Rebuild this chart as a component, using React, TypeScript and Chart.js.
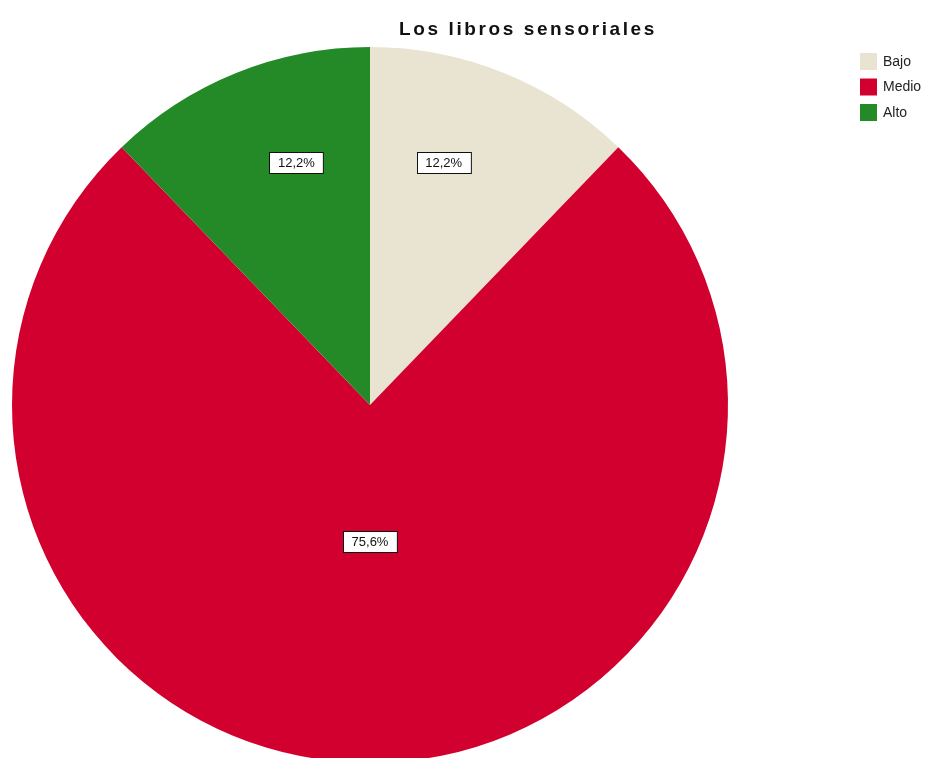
import React, { useEffect, useRef } from "react";
import { Chart, registerables } from "chart.js";

Chart.register(...registerables);

const chartTitle = "Los libros sensoriales";
const categories = ["Bajo", "Medio", "Alto"];
const percentages = [12.2, 75.6, 12.2];
const percentLabels = ["12,2%", "75,6%", "12,2%"];
const sliceColors = ["#E9E4D1", "#D2002F", "#248A27"];

const overlayPlugin = {
  id: "spssOverlay",
  afterDraw(chart: any) {
    const ctx = chart.ctx;
    const meta = chart.getDatasetMeta(0);
    ctx.save();
    // slice labels
    ctx.font = '13px "Liberation Sans", Arial, sans-serif';
    ctx.textAlign = "center";
    ctx.textBaseline = "middle";
    meta.data.forEach((arc: any, i: number) => {
      const p = arc.getProps(["x", "y", "startAngle", "endAngle", "outerRadius"], true);
      const top = -Math.PI / 2;
      let mid = (p.startAngle + p.endAngle) / 2;
      let off = mid - top;
      while (off > Math.PI) off -= 2 * Math.PI;
      while (off <= -Math.PI) off += 2 * Math.PI;
      const small = percentages[i] < 25;
      const ang = top + off * (small ? 0.77 : 1);
      const rf = small ? 0.707 : 0.38;
      const cx = p.x + Math.cos(ang) * p.outerRadius * rf;
      const cy = p.y + Math.sin(ang) * p.outerRadius * rf;
      const txt = percentLabels[i];
      const w = ctx.measureText(txt).width + 17;
      const h = 21;
      const bx = Math.round(cx - w / 2) + 0.5;
      const by = Math.round(cy - h / 2) + 0.5;
      ctx.fillStyle = "#ffffff";
      ctx.fillRect(bx, by, w, h);
      ctx.strokeStyle = "#111111";
      ctx.lineWidth = 1;
      ctx.strokeRect(bx, by, w, h);
      ctx.fillStyle = "#111111";
      ctx.fillText(txt, cx, cy + 1);
    });
    // title
    ctx.font = 'bold 19px "Liberation Sans", Arial, sans-serif';
    try { (ctx as any).letterSpacing = "2.6px"; } catch (e) {}
    ctx.fillStyle = "#111111";
    ctx.textAlign = "center";
    ctx.textBaseline = "alphabetic";
    ctx.fillText(chartTitle, 528, 35);
    try { (ctx as any).letterSpacing = "0px"; } catch (e) {}
    // legend
    ctx.font = '14px "Liberation Sans", Arial, sans-serif';
    ctx.textAlign = "left";
    ctx.textBaseline = "middle";
    categories.forEach((c, i) => {
      const y = 61 + i * 25.5;
      ctx.fillStyle = sliceColors[i];
      ctx.fillRect(860, y - 8, 17, 17);
      ctx.fillStyle = "#222222";
      ctx.fillText(c, 883, y + 1);
    });
    ctx.restore();
  },
};

export default function App() {
  const ref = useRef<HTMLCanvasElement | null>(null);
  useEffect(() => {
    if (!ref.current) return;
    const chart = new Chart(ref.current, {
      type: "pie",
      data: {
        labels: categories,
        datasets: [
          {
            data: percentages,
            backgroundColor: sliceColors,
            borderWidth: 0,
          },
        ],
      },
      options: {
        responsive: false,
        animation: false,
        devicePixelRatio: 1,
        layout: { padding: { left: 12, right: 213, top: 47, bottom: 37 } },
        plugins: {
          legend: { display: false },
          title: { display: false },
          tooltip: { enabled: false },
        },
      },
      plugins: [overlayPlugin],
    });
    return () => chart.destroy();
  }, []);
  return (
    <div
      style={{
        position: "fixed",
        left: 0,
        top: 0,
        width: 941,
        height: 758,
        overflow: "hidden",
        background: "#ffffff",
      }}
    >
      <canvas ref={ref} width={941} height={800} style={{ display: "block", width: 941, height: 800 }} />
    </div>
  );
}
